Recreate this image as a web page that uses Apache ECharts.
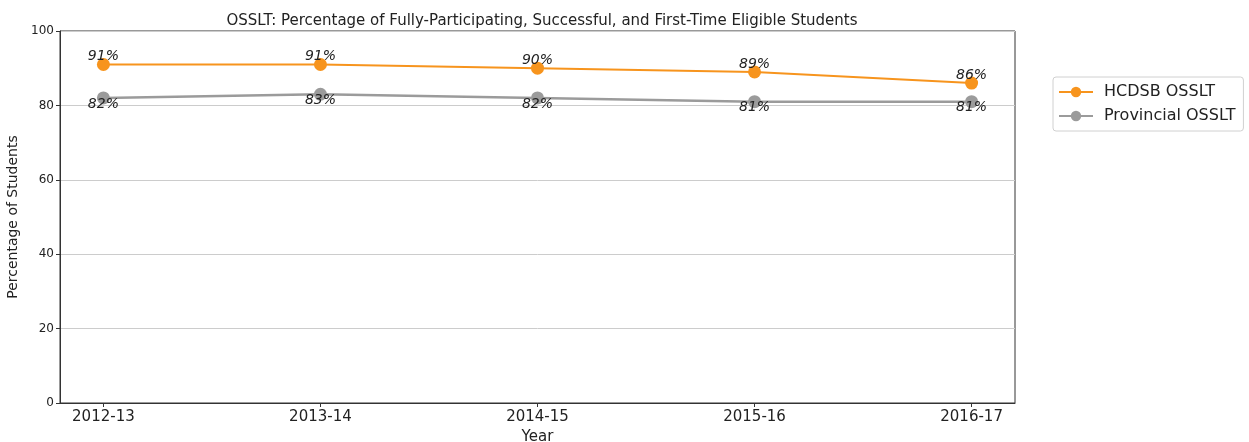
<!DOCTYPE html>
<html>
<head>
<meta charset="utf-8">
<script src="https://cdn.jsdelivr.net/npm/echarts@6/dist/echarts.min.js"></script>
<style>html,body{margin:0;padding:0;background:#fff;}#c{width:1249px;height:442px;}</style>
</head>
<body>
<div id="c"></div>
<script>
const categories = ['2012-13', '2013-14', '2014-15', '2015-16', '2016-17'];
const hcdsb = [91, 91, 90, 89, 86];
const provincial = [82, 83, 82, 81, 81];
const yTicks = [0, 20, 40, 60, 80, 100];

const font = 'DejaVu Sans';
const chart = echarts.init(document.getElementById('c'));
const idx = categories.map((_, i) => i);
chart.setOption({
  animation: false,
  backgroundColor: '#fff',
  textStyle: { fontFamily: font },
  title: {
    text: 'OSSLT: Percentage of Fully-Participating, Successful, and First-Time Eligible Students',
    left: 537, top: 9, textAlign: 'center',
    textStyle: { fontFamily: font, fontSize: 15, fontWeight: 'normal', color: '#222' }
  },
  legend: {
    orient: 'vertical', left: 1053, top: 77,
    padding: [7, 8, 7, 5], itemGap: 8,
    itemWidth: 34, itemHeight: 13,
    borderColor: '#d0d0d0', borderWidth: 1, borderRadius: 3,
    textStyle: { fontFamily: font, fontSize: 16, color: '#222', padding: [0, 0, 0, 6] },
    data: ['HCDSB OSSLT', 'Provincial OSSLT']
  },
  grid: { left: 60, right: 234, top: 31, bottom: 39, show: true, borderColor: '#333', borderWidth: 1, outerBoundsMode: 'none' },
  xAxis: {
    type: 'value', min: -0.2, max: 4.2,
    name: 'Year', nameLocation: 'middle', nameGap: 27,
    nameTextStyle: { fontFamily: font, fontSize: 15, color: '#222' },
    axisLine: { show: true, onZero: false, lineStyle: { color: '#333' } },
    axisTick: { show: true, length: 4, customValues: idx, lineStyle: { color: '#333' } },
    axisLabel: { customValues: idx, fontFamily: font, fontSize: 15, color: '#222', margin: 7,
      formatter: v => categories[Math.round(v)] },
    splitLine: { show: false }
  },
  yAxis: {
    type: 'value', min: 0, max: 100, interval: 20,
    name: 'Percentage of Students', nameLocation: 'middle', nameGap: 33,
    nameTextStyle: { fontFamily: font, fontSize: 14, color: '#222' },
    axisLine: { show: true, onZero: false, lineStyle: { color: '#333' } },
    axisTick: { show: true, length: 4, lineStyle: { color: '#333' } },
    axisLabel: { fontFamily: font, fontSize: 12, color: '#222', margin: 6,
      formatter: v => yTicks.includes(v) ? String(v) : '' },
    splitLine: { show: true, lineStyle: { color: '#cccccc', width: 1 } }
  },
  series: [
    {
      name: 'HCDSB OSSLT', type: 'line',
      data: hcdsb.map((v, i) => [i, v]),
      symbol: 'circle', symbolSize: 13, z: 3,
      itemStyle: { color: '#f7941d' },
      lineStyle: { color: '#f7941d', width: 2 },
      label: { show: true, position: 'inside', offset: [0, -8], formatter: p => p.value[1] + '%',
        fontFamily: font, fontSize: 14, fontStyle: 'italic', color: '#222' }
    },
    {
      name: 'Provincial OSSLT', type: 'line',
      data: provincial.map((v, i) => [i, v]),
      symbol: 'circle', symbolSize: 13, z: 2,
      itemStyle: { color: '#9b9b9b' },
      lineStyle: { color: '#9b9b9b', width: 2.5 },
      label: { show: true, position: 'inside', offset: [0, 6], formatter: p => p.value[1] + '%',
        fontFamily: font, fontSize: 14, fontStyle: 'italic', color: '#222' }
    }
  ]
});
</script>
</body>
</html>
